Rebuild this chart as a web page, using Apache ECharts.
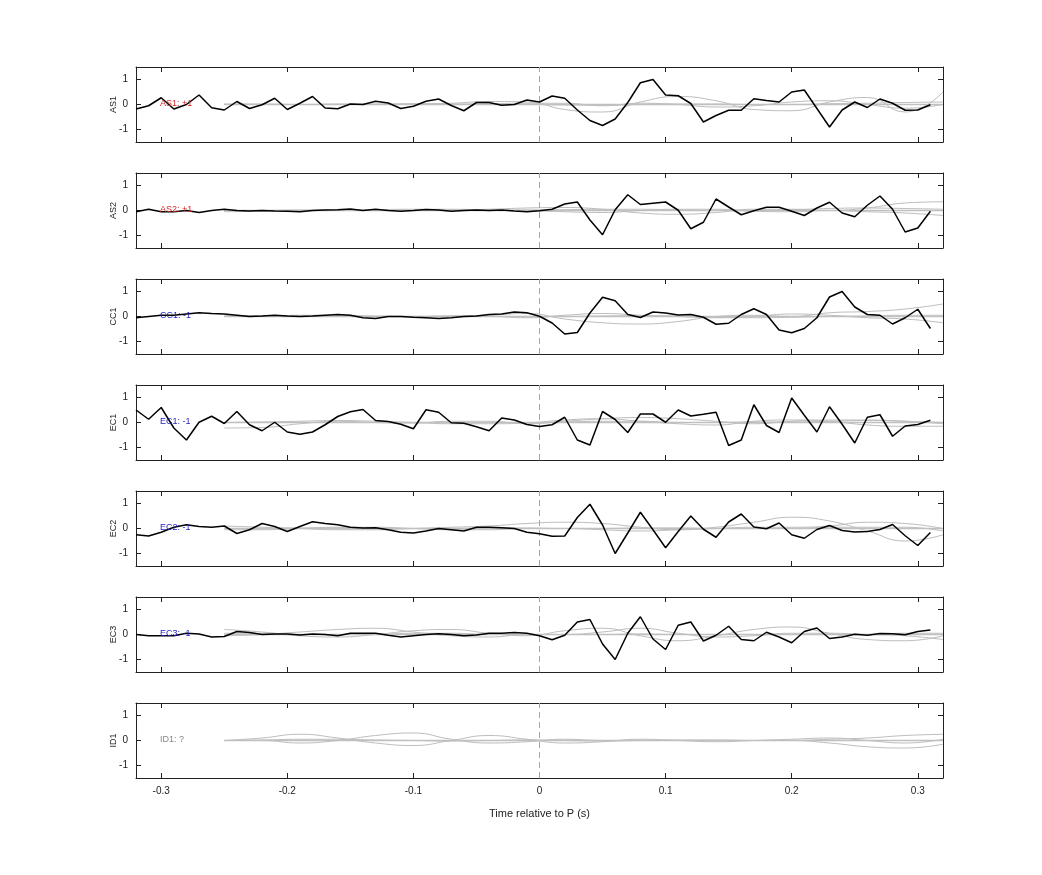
<!DOCTYPE html>
<html>
<head>
<meta charset="utf-8">
<script src="https://cdn.jsdelivr.net/npm/echarts@6/dist/echarts.min.js"></script>
<style>
  html, body { margin: 0; padding: 0; background: #fff; }
  #chart { width: 1042px; height: 875px; }
</style>
</head>
<body>
<div id="chart"></div>
<script>
const stations = ['AS1', 'AS2', 'CC1', 'EC1', 'EC2', 'EC3', 'ID1'];
const polarityLabels = ['AS1: +1', 'AS2: +1', 'CC1: -1', 'EC1: -1', 'EC2: -1', 'EC3: -1', 'ID1: ?'];
const polarityColors = ['#d62728', '#d62728', '#1f1fbf', '#1f1fbf', '#1f1fbf', '#1f1fbf', '#888888'];
const xTicks = [-0.3, -0.2, -0.1, 0, 0.1, 0.2, 0.3];
const yTicks = [-1, 0, 1];

// sample times for the black traces (s)
const times = [-0.32, -0.31, -0.30, -0.29, -0.28, -0.27, -0.26, -0.25, -0.24, -0.23, -0.22, -0.21, -0.20, -0.19, -0.18, -0.17,
  -0.16, -0.15, -0.14, -0.13, -0.12, -0.11, -0.10, -0.09, -0.08, -0.07, -0.06, -0.05, -0.04, -0.03, -0.02, -0.01,
  0.00, 0.01, 0.02, 0.03, 0.04, 0.05, 0.06, 0.07, 0.08, 0.09, 0.10, 0.11, 0.12, 0.13, 0.14, 0.15,
  0.16, 0.17, 0.18, 0.19, 0.20, 0.21, 0.22, 0.23, 0.24, 0.25, 0.26, 0.27, 0.28, 0.29, 0.30, 0.31];

// sample times for the smooth grey traces (s)
const greyTimes = [-0.25, -0.22, -0.19, -0.16, -0.13, -0.10, -0.07, -0.04, -0.01, 0.02, 0.05, 0.08, 0.11, 0.14, 0.17, 0.20, 0.23, 0.26, 0.29, 0.32];

const as1 = [-0.18, -0.05, 0.27, -0.18, 0.0, 0.38, -0.13, -0.22, 0.12, -0.16, -0.01, 0.25, -0.2, 0.05, 0.32, -0.14,
  -0.17, 0.02, 0.0, 0.13, 0.06, -0.16, -0.07, 0.13, 0.22, -0.04, -0.25, 0.08, 0.08, -0.03, 0.0, 0.18,
  0.1, 0.34, 0.25, -0.22, -0.64, -0.84, -0.58, 0.08, 0.87, 1.0, 0.38, 0.35, 0.04, -0.7, -0.44, -0.23,
  -0.23, 0.23, 0.16, 0.1, 0.5, 0.58, -0.16, -0.9, -0.22, 0.1, -0.12, 0.22, 0.05, -0.23, -0.22, -0.01];
const as2 = [-0.05, 0.05, -0.05, -0.05, 0.0, -0.08, 0.0, 0.05, 0.0, -0.02, 0.0, -0.02, -0.03, -0.05, 0.0, 0.02,
  0.03, 0.06, 0.0, 0.05, 0.0, -0.03, 0.0, 0.04, 0.02, -0.03, 0.0, 0.02, 0.0, 0.02, -0.02, -0.05,
  -0.01, 0.05, 0.26, 0.34, -0.38, -0.97, 0.03, 0.63, 0.24, 0.29, 0.34, 0.01, -0.73, -0.47, 0.46, 0.14,
  -0.17, -0.01, 0.13, 0.13, -0.03, -0.2, 0.1, 0.33, -0.1, -0.25, 0.21, 0.58, 0.05, -0.86, -0.7, -0.03];
const cc1 = [-0.05, 0.0, 0.05, 0.05, 0.1, 0.15, 0.12, 0.1, 0.05, 0.0, 0.02, 0.05, 0.02, 0.0, 0.02, 0.05,
  0.08, 0.05, -0.05, -0.08, 0.0, 0.0, -0.03, -0.05, -0.08, -0.05, 0.0, 0.02, 0.08, 0.1, 0.18, 0.15,
  0.01, -0.26, -0.7, -0.64, 0.14, 0.77, 0.63, 0.08, -0.04, 0.18, 0.14, 0.06, 0.08, -0.03, -0.31, -0.27,
  0.08, 0.31, 0.08, -0.54, -0.65, -0.48, -0.05, 0.78, 1.0, 0.38, 0.08, 0.05, -0.3, -0.05, 0.29, -0.48];
const ec1 = [0.5, 0.13, 0.6, -0.22, -0.7, 0.01, 0.25, -0.04, 0.44, -0.09, -0.33, 0.01, -0.38, -0.47, -0.38, -0.09,
  0.24, 0.43, 0.52, 0.08, 0.04, -0.07, -0.25, 0.51, 0.41, -0.01, -0.03, -0.17, -0.33, 0.18, 0.1, -0.08,
  -0.16, -0.09, 0.21, -0.7, -0.9, 0.44, 0.12, -0.4, 0.34, 0.34, 0.01, 0.5, 0.26, 0.33, 0.41, -0.92,
  -0.7, 0.71, -0.12, -0.4, 0.98, 0.29, -0.38, 0.63, -0.07, -0.82, 0.21, 0.31, -0.55, -0.14, -0.08, 0.09];
const ec2 = [-0.25, -0.3, -0.15, 0.05, 0.15, 0.08, 0.05, 0.1, -0.2, -0.05, 0.2, 0.08, -0.12, 0.08, 0.27, 0.2,
  0.15, 0.05, 0.02, 0.03, -0.05, -0.15, -0.18, -0.1, 0.0, -0.05, -0.1, 0.05, 0.05, 0.03, 0.0, -0.15,
  -0.21, -0.31, -0.3, 0.44, 0.97, 0.14, -1.0, -0.18, 0.65, -0.05, -0.77, -0.12, 0.5, -0.03, -0.35, 0.26,
  0.58, 0.06, -0.01, 0.22, -0.25, -0.39, -0.04, 0.12, -0.08, -0.14, -0.12, -0.04, 0.16, -0.29, -0.68, -0.16];
const ec3 = [0.0, -0.05, -0.05, -0.05, 0.05, 0.02, -0.1, -0.08, 0.12, 0.08, 0.0, 0.02, 0.02, -0.02, 0.02, 0.0,
  -0.05, 0.05, 0.05, 0.05, -0.03, -0.1, -0.05, 0.0, 0.03, 0.0, -0.05, -0.02, 0.05, 0.05, 0.08, 0.05,
  -0.05, -0.21, -0.03, 0.5, 0.6, -0.38, -1.0, 0.05, 0.71, -0.18, -0.6, 0.37, 0.5, -0.26, -0.03, 0.33,
  -0.2, -0.25, 0.09, -0.1, -0.33, 0.12, 0.26, -0.16, -0.1, 0.01, -0.03, 0.04, 0.03, -0.01, 0.12, 0.18];
const blackTraces = [as1, as2, cc1, ec1, ec2, ec3, null];

// grey reference traces, three per station
const greyAs1 = [
  [0.02, 0.02, 0.0, 0.0, 0.0, 0.02, 0.05, 0.12, 0.1, -0.2, -0.3, 0.1, 0.32, 0.15, -0.2, -0.25, 0.1, 0.28, -0.3, 0.5],
  [0.0, 0.0, 0.0, 0.02, 0.02, 0.03, 0.02, 0.03, 0.05, 0.05, -0.05, 0.05, 0.0, -0.1, -0.05, 0.1, 0.15, 0.0, -0.15, 0.0],
  [0.0, 0.0, 0.0, 0.0, 0.0, 0.0, 0.0, 0.0, 0.0, -0.02, -0.03, 0.0, 0.02, 0.02, 0.0, 0.0, 0.03, 0.05, 0.08, 0.1]];
const greyAs2 = [
  [0.0, 0.0, 0.02, 0.02, 0.0, 0.0, 0.02, 0.05, 0.1, 0.12, 0.05, -0.1, -0.15, -0.08, 0.05, 0.05, 0.0, 0.1, 0.3, 0.35],
  [-0.05, -0.03, 0.0, 0.0, 0.03, 0.05, 0.05, 0.02, 0.0, -0.05, -0.08, 0.0, 0.05, 0.05, -0.03, -0.05, 0.0, -0.05, -0.1, -0.2],
  [0.0, 0.0, 0.0, 0.0, 0.0, 0.0, 0.0, 0.0, 0.02, 0.03, 0.05, 0.05, 0.02, 0.0, 0.0, 0.03, 0.08, 0.1, 0.08, 0.05]];
const greyCc1 = [
  [0.05, 0.03, 0.0, 0.0, 0.0, 0.0, 0.02, 0.05, 0.12, -0.1, -0.25, -0.3, -0.2, 0.0, 0.05, 0.0, 0.15, 0.2, 0.3, 0.5],
  [0.0, 0.0, 0.05, 0.05, 0.02, 0.0, 0.0, 0.0, -0.05, 0.05, 0.12, 0.05, 0.0, -0.05, 0.0, 0.1, 0.05, -0.05, -0.1, -0.25],
  [0.0, 0.0, 0.0, 0.0, 0.0, 0.0, 0.02, 0.0, 0.0, 0.0, 0.02, 0.03, 0.02, -0.03, -0.05, -0.03, 0.0, 0.02, 0.05, 0.05]];
const greyEc1 = [
  [-0.22, -0.2, -0.05, 0.05, 0.0, -0.02, 0.05, 0.05, -0.05, 0.05, 0.15, 0.2, 0.15, 0.05, -0.05, 0.05, 0.1, 0.1, 0.05, 0.0],
  [0.0, 0.02, 0.05, 0.08, 0.05, 0.0, -0.05, -0.05, -0.02, 0.1, 0.15, 0.05, -0.05, -0.1, 0.05, 0.1, 0.05, -0.1, -0.15, -0.15],
  [0.0, 0.0, 0.0, 0.0, 0.0, 0.0, 0.0, 0.0, 0.0, 0.02, 0.05, 0.05, 0.0, 0.0, 0.02, 0.02, 0.05, 0.08, 0.05, -0.05]];
const greyEc2 = [
  [0.1, 0.05, 0.0, -0.05, -0.05, 0.0, 0.05, 0.1, 0.2, 0.25, 0.2, 0.05, -0.05, 0.05, 0.25, 0.45, 0.3, -0.1, -0.5, -0.25],
  [-0.05, -0.05, 0.0, 0.05, 0.05, 0.0, -0.05, -0.05, 0.0, 0.0, -0.05, -0.1, -0.05, 0.0, 0.05, 0.05, 0.1, 0.25, 0.2, 0.0],
  [0.0, 0.0, 0.02, 0.02, 0.0, 0.0, 0.0, 0.02, 0.02, 0.0, 0.0, 0.02, 0.02, 0.0, 0.0, 0.0, 0.05, 0.05, 0.05, -0.1]];
const greyEc3 = [
  [0.2, 0.1, -0.05, -0.1, 0.0, 0.15, 0.2, 0.05, -0.05, 0.15, 0.25, -0.05, -0.25, -0.05, 0.2, 0.3, 0.05, -0.2, -0.25, -0.05],
  [-0.05, 0.0, 0.1, 0.2, 0.25, 0.1, -0.05, -0.1, 0.0, 0.0, 0.1, 0.25, 0.05, -0.1, -0.05, 0.05, 0.05, 0.0, -0.05, -0.2],
  [0.05, 0.05, 0.0, 0.0, 0.0, 0.05, 0.05, 0.0, 0.0, 0.0, 0.0, 0.02, 0.0, 0.0, 0.0, 0.0, 0.0, 0.0, 0.05, 0.05]];
const greyId1 = [
  [0.0, 0.1, 0.25, 0.1, -0.1, -0.2, 0.0, 0.2, 0.05, -0.1, -0.05, 0.05, 0.0, -0.05, 0.0, 0.05, 0.1, 0.0, -0.1, 0.05],
  [0.0, 0.0, -0.1, 0.0, 0.2, 0.3, 0.05, -0.1, -0.05, 0.05, 0.0, 0.0, 0.0, 0.0, 0.0, 0.0, -0.1, -0.25, -0.3, -0.15],
  [0.0, 0.02, 0.05, 0.05, 0.02, 0.0, -0.02, 0.0, 0.02, 0.0, -0.02, 0.0, 0.02, 0.02, 0.0, 0.0, 0.05, 0.1, 0.2, 0.25]];
const greyTraces = [greyAs1, greyAs2, greyCc1, greyEc1, greyEc2, greyEc3, greyId1];

const chart = echarts.init(document.getElementById('chart'));
const FONT = 'Liberation Sans';
const grids = [], xAxes = [], yAxes = [], series = [], graphics = [];

stations.forEach((name, i) => {
  const top = 67 + i * 106;
  grids.push({ left: 136, right: 99, top, height: 75 });
  const last = i === stations.length - 1;
  ['bottom', 'top'].forEach((pos) => {
    xAxes.push({
      type: 'value', gridIndex: i, position: pos, min: -0.32, max: 0.32,
      axisLine: { show: true, onZero: false, lineStyle: { color: '#222', width: 1 } },
      axisTick: { show: true, inside: true, length: 5, customValues: xTicks, lineStyle: { color: '#222' } },
      axisLabel: {
        show: last && pos === 'bottom', customValues: xTicks, color: '#222', fontSize: 10, fontFamily: FONT, margin: 8,
      },
      splitLine: { show: false },
      name: last && pos === 'bottom' ? 'Time relative to P (s)' : '',
      nameLocation: 'middle', nameGap: 30, nameTextStyle: { color: '#222', fontSize: 11, fontFamily: FONT },
    });
  });
  ['left', 'right'].forEach((pos) => {
    yAxes.push({
      type: 'value', gridIndex: i, position: pos, min: -1.5, max: 1.5,
      axisLine: { show: true, onZero: false, lineStyle: { color: '#222', width: 1 } },
      axisTick: { show: true, inside: true, length: 5, customValues: yTicks, lineStyle: { color: '#222' } },
      axisLabel: { show: pos === 'left', customValues: yTicks, color: '#222', fontSize: 10, fontFamily: FONT, margin: 8 },
      splitLine: { show: false },
      name: pos === 'left' ? name : '',
      nameLocation: 'middle', nameGap: 18, nameRotate: 90, nameMoveOverlap: false,
      nameTextStyle: { color: '#222', fontSize: 9, fontFamily: FONT },
    });
  });
  const xi = i * 2, yi = i * 2;
  greyTraces[i].forEach((vals) => {
    series.push({
      type: 'line', xAxisIndex: xi, yAxisIndex: yi, smooth: true, showSymbol: false, silent: true,
      lineStyle: { color: '#bdbdbd', width: 1 },
      data: greyTimes.map((t, k) => [t, vals[k]]),
    });
  });
  series.push({
    type: 'line', xAxisIndex: xi, yAxisIndex: yi, showSymbol: false, silent: true,
    lineStyle: { color: '#c0c0c0', width: 1.5 }, data: [[-0.25, 0], [0.32, 0]],
    markLine: {
      symbol: 'none', silent: true, label: { show: false },
      lineStyle: { color: '#e88', type: [6, 4], width: 1 }, data: [{ xAxis: 0 }],
    },
  });
  if (blackTraces[i]) {
    series.push({
      type: 'line', xAxisIndex: xi, yAxisIndex: yi, showSymbol: false, silent: true, z: 5,
      lineStyle: { color: '#000', width: 1.5 },
      data: times.map((t, k) => [t, blackTraces[i][k]]),
    });
  }
  graphics.push({
    type: 'text', left: 160, top: top + 32,
    style: { text: polarityLabels[i], fill: polarityColors[i], fontSize: 9, fontFamily: FONT },
    z: 10,
  });
});

chart.setOption({
  animation: false,
  backgroundColor: '#fff',
  grid: grids,
  xAxis: xAxes,
  yAxis: yAxes,
  series,
  graphic: graphics,
});
</script>
</body>
</html>
